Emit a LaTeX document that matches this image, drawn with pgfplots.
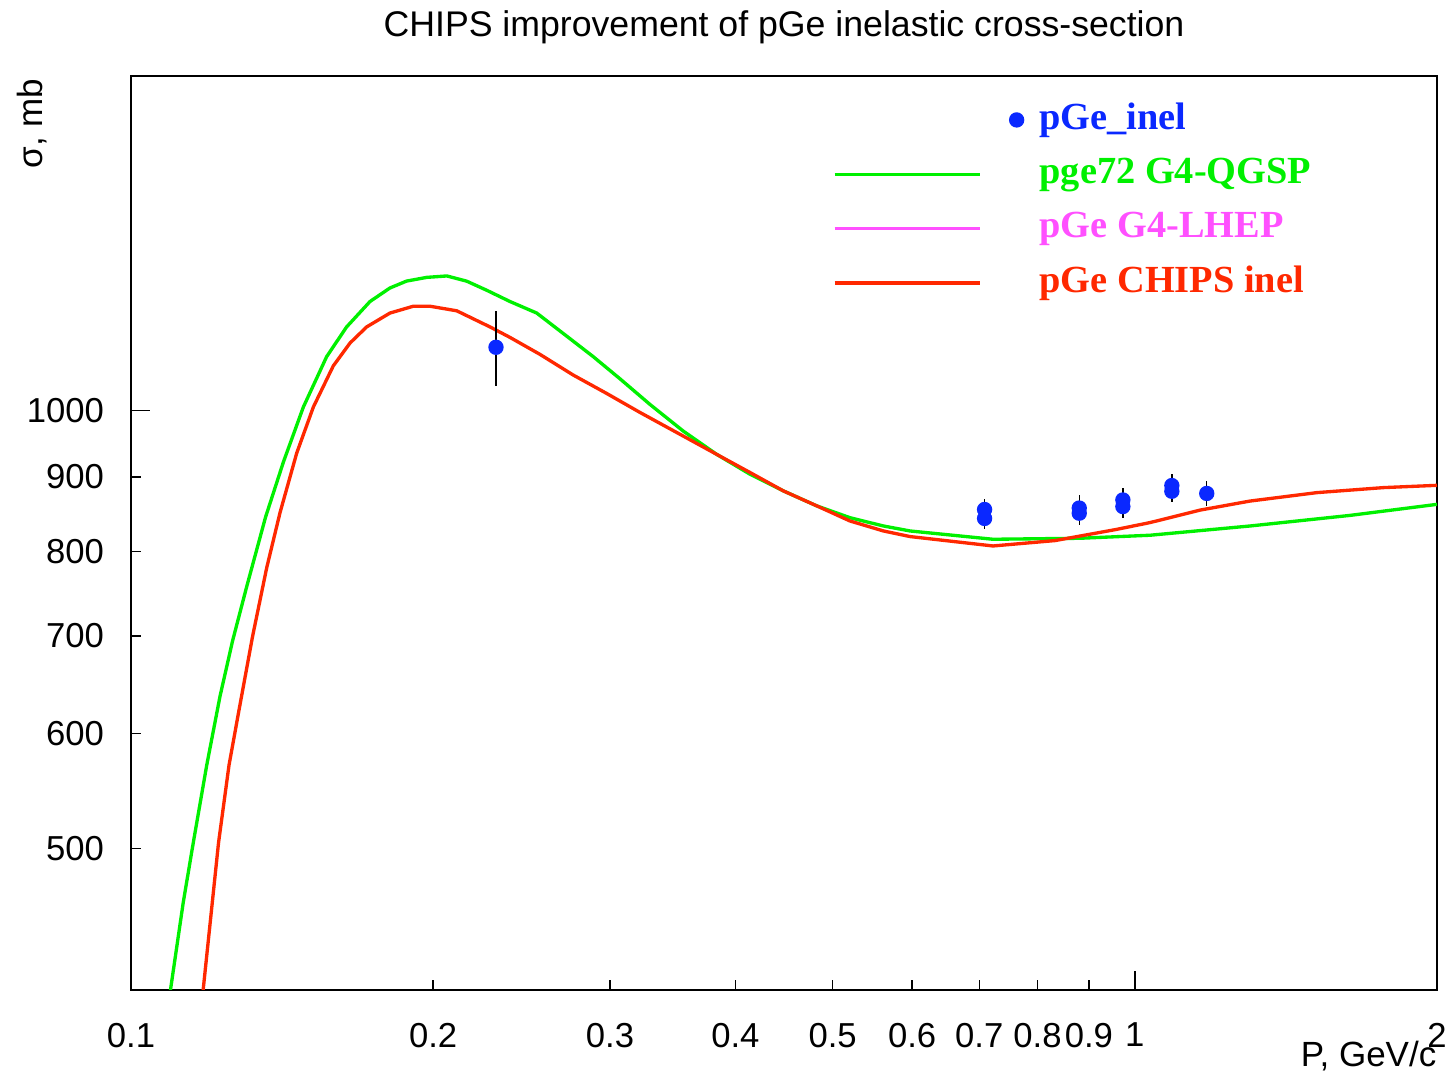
\documentclass[border=0pt]{standalone}
\usepackage{fontspec}
\setmainfont{Liberation Sans}
\newfontfamily\legfont{Liberation Serif}
\usepackage{pgfplots}
\usepackage{pgfplotstable}
\pgfplotsset{compat=1.18}
\definecolor{ptblue}{RGB}{10,40,255}
\definecolor{cgreen}{RGB}{0,240,0}
\definecolor{cred}{RGB}{255,40,0}
\definecolor{cmag}{RGB}{255,80,255}

\pgfplotstableread{
x y
0.10808 376
0.10953 400.8
0.11274 459.4
0.11536 504.8
0.11898 570.8
0.12266 636.4
0.12623 694.5
0.13042 757.2
0.13616 844.7
0.14184 921.5
0.14849 1005.2
0.15665 1088.7
0.16400 1141.1
0.17302 1187.8
0.18113 1213.6
0.18820 1226.9
0.19713 1234.1
0.20639 1236.9
0.21602 1226.7
0.22615 1209.2
0.23857 1187.8
0.25363 1166.4
0.27163 1124.7
0.28874 1088.7
0.30697 1051.3
0.32886 1009.5
0.35500 967.8
0.38325 932.9
0.41369 904.0
0.44647 880.6
0.48215 859.9
0.52034 844.0
0.56174 833.0
0.59710 826.5
0.72242 815.7
0.88189 817.0
1.0355 820.9
1.3024 833.0
1.6385 847.1
2.0 862.0
}\greentab

\pgfplotstableread{
x y
0.11681 376
0.11804 400.8
0.12224 504.8
0.12522 570.8
0.12812 622.7
0.13217 699.6
0.13654 780.0
0.14077 850.9
0.14626 934.8
0.15193 1005.2
0.15905 1072.9
0.16527 1112.4
0.17171 1141.1
0.18113 1166.4
0.19106 1179.0
0.19864 1179.0
0.21111 1170.6
0.22787 1141.1
0.23857 1122.3
0.25556 1092.6
0.27579 1057.5
0.29776 1027.2
0.32140 996.8
0.35500 960.2
0.38325 932.9
0.41369 906.5
0.44647 880.6
0.48215 859.9
0.52034 839.6
0.56174 826.5
0.59710 819.2
0.72242 807.1
0.83290 814.0
0.95934 828.6
1.0355 837.5
1.1615 854.2
1.3024 866.5
1.5182 878.1
1.7682 885.1
2.0 888.3
}\redtab

\pgfplotstableread{
x y e
0.2310 1105 65
0.7085 855 14
0.7085 843 14
0.8803 857 18
0.8803 850 16
0.9729 868 16
0.9729 859 15
1.0886 888 16
1.0886 880 15
1.1793 877 17
}\datatab

\begin{document}
\begin{tikzpicture}
\useasboundingbox (-39.3pt,-25.8pt) rectangle (396.3pt,297pt);
\begin{axis}[
  at={(0pt,0pt)}, anchor=south west,
  scale only axis, width=391.8pt, height=274.2pt,
  xmode=log, ymode=log,
  xmin=0.1, xmax=2, ymin=400, ymax=1697,
  axis line style={line width=0.5pt},
  tick style={black, line width=0.4pt},
  major tick length=3pt,
  xtick={0.2,0.3,0.4,0.5,0.6,0.7,0.8,0.9,2},
  xticklabels={0.2,0.3,0.4,0.5,0.6,0.7,0.8,0.9,2},
  extra x ticks={0.1,1},
  extra x tick labels={0.1,1},
  ytick={500,600,700,800,900},
  yticklabels={500,600,700,800,900},
  extra y ticks={1000},
  extra y tick labels={1000},
  extra tick style={major tick length=5.7pt},
  minor xtick={}, minor ytick={},
  tick pos=left,
  tick align=inside,
  /pgf/number format/assume math mode=true,
  ticklabel style={font=\fontsize{10.4}{12}\selectfont},
  xticklabel style={yshift=-6.4pt},
  yticklabel style={xshift=-4.6pt},
  every axis title shift=0pt,
  title={CHIPS improvement of pGe inelastic cross-section},
  title style={at={(axis description cs:0.5,1.0427)}, anchor=base, yshift=0pt, inner sep=0pt, font=\fontsize{10.7}{13}\selectfont},
  xlabel={P, GeV/c},
  xlabel style={at={(axis description cs:1,-0.0842)}, anchor=base east, inner sep=0pt, font=\fontsize{10.5}{12}\selectfont},
  ylabel={σ, mb},
  ylabel style={at={(axis description cs:-0.0758,0.9978)}, anchor=east, inner sep=0pt, font=\fontsize{10.5}{12}\selectfont},
  legend style={at={(axis description cs:0.5375,0.971)}, anchor=north west, draw=none, fill=none, inner sep=0pt, outer sep=0pt, row sep=5.8pt, column sep=0pt, font=\legfont\bfseries\fontsize{11.5}{13}\selectfont, nodes={text height=8pt, text depth=2.5pt, inner sep=0pt}},
  legend cell align=left,
]
\addlegendimage{legend image code/.code={\path[draw=none,fill=none] (0pt,-3pt) rectangle (61.5pt,3pt); \fill[ptblue] (54.6pt,0pt) circle (2.1pt);}}
\addlegendentry{\textcolor{ptblue}{pGe\_inel}}
\addlegendimage{legend image code/.code={\path[draw=none,fill=none] (0pt,-3pt) rectangle (61.5pt,3pt); \draw[cgreen, line width=1pt] (0pt,0pt) -- (43.5pt,0pt);}}
\addlegendentry{\textcolor{cgreen}{pge72 G4-QGSP}}
\addlegendimage{legend image code/.code={\path[draw=none,fill=none] (0pt,-3pt) rectangle (61.5pt,3pt); \draw[cmag, line width=1pt] (0pt,0pt) -- (43.5pt,0pt);}}
\addlegendentry{\textcolor{cmag}{pGe G4-LHEP}}
\addlegendimage{legend image code/.code={\path[draw=none,fill=none] (0pt,-3pt) rectangle (61.5pt,3pt); \draw[cred, line width=1pt] (0pt,0pt) -- (43.5pt,0pt);}}
\addlegendentry{\textcolor{cred}{pGe CHIPS inel}}

\addplot[cgreen, line width=1pt, line join=round, forget plot] table[x=x,y=y] {\greentab};
\addplot[cred, line width=1pt, line join=round, forget plot] table[x=x,y=y] {\redtab};
\addplot[only marks, mark=*, mark size=2.1pt, ptblue, forget plot,
  error bars/.cd, y dir=both, y explicit, error bar style={black, line width=0.4pt}, error mark=none]
  table[x=x, y=y, y error=e] {\datatab};
\end{axis}
\end{tikzpicture}
\end{document}
